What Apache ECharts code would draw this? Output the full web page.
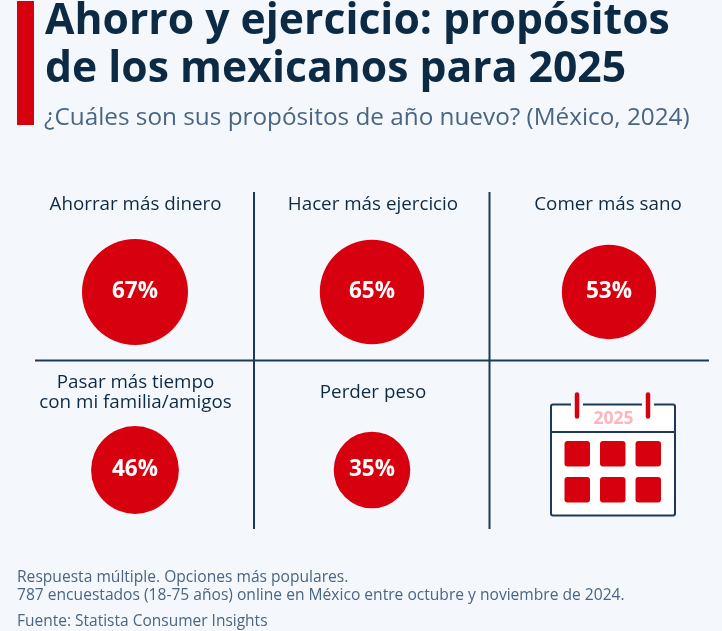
<!DOCTYPE html>
<html>
<head>
<meta charset="utf-8">
<script src="https://cdn.jsdelivr.net/npm/echarts@6/dist/echarts.min.js"></script>
<style>html,body{margin:0;padding:0;background:#f4f8fc}#c{width:722px;height:631px}</style>
</head>
<body>
<div id="c"></div>
<script>
const categories = ['Ahorrar más dinero','Hacer más ejercicio','Comer más sano','Pasar más tiempo\ncon mi familia/amigos','Perder peso'];
const values = [67,65,53,46,35];
const titleLines = ['Ahorro y ejercicio: propósitos','de los mexicanos para 2025'];
const subtitle = '¿Cuáles son sus propósitos de año nuevo? (México, 2024)';
const notes = ['Respuesta múltiple. Opciones más populares.','787 encuestados (18-75 años) online en México entre octubre y noviembre de 2024.'];
const source = 'Fuente: Statista Consumer Insights';
const calendarYear = '2025';

const FONT = '"Open Sans", sans-serif';
const RED = '#d7000f', NAVY = '#1c3a57', DARK = '#0d2a45', SLATE = '#4a6582';
const COLS = 3;

function txt(x, y, text, size, color, extra) {
  return { type:'text', x, y, silent:true, style:Object.assign({ text, fontFamily:FONT, fontSize:size, fill:color, verticalAlign:'middle' }, extra||{}) };
}
function line(x1,y1,x2,y2,color,w,cap){
  return { type:'line', silent:true, shape:{x1,y1,x2,y2}, style:{stroke:color,lineWidth:w,lineCap:cap||'butt'} };
}
function rect(x,y,width,height,r,style){
  return { type:'rect', silent:true, shape:{x,y,width,height,r}, style };
}

const graphics = [
  rect(17,1,17,124,0,{fill:RED}),
  txt(45,21.5,titleLines[0],42.7,DARK,{fontWeight:700}),
  txt(45,70,titleLines[1],42.7,DARK,{fontWeight:700}),
  txt(44,118,subtitle,24.3,SLATE),
  line(254,192,254,529,NAVY,2),
  line(489.5,192,489.5,529,NAVY,2),
  line(35,360.5,709,360.5,NAVY,2),
  txt(17,578,notes[0],15.6,SLATE),
  txt(17,596,notes[1],15.6,SLATE),
  txt(17,621.5,source,15.5,SLATE)
];

// cell captions, generated from the categories
const capX = [135.5,373,608];
categories.forEach((c,i)=>{
  const col = i % COLS, row = Math.floor(i/COLS);
  graphics.push({ type:'text', silent:true, x:capX[col], y: row===0 ? 205 : 392.5,
    style:{ text:c, fontFamily:FONT, fontSize:18.8, fill:DARK, align:'center', verticalAlign:'middle', lineHeight:20 } });
});

// calendar icon
graphics.push(rect(551,404.5,124,111,2,{fill:'#ffffff',stroke:NAVY,lineWidth:2}));
graphics.push(line(551,432,675,432,NAVY,2));
[577,648].forEach(x=>{
  graphics.push(line(x,402,x,406,'#f4f8fc',12));
  graphics.push(line(x,394.5,x,416.5,RED,4.5,'round'));
});
graphics.push({type:'text',silent:true,x:613.5,y:419,style:{text:calendarYear,fontFamily:FONT,fontSize:17.5,fontWeight:700,fill:'#ffb3ba',align:'center',verticalAlign:'middle'}});
[441,477].forEach(y=>[564.5,600,635.5].forEach(x=>{
  graphics.push(rect(x,y,25.5,25.5,3,{fill:RED}));
}));

const chart = echarts.init(document.getElementById('c'),null,{renderer:'canvas'});
chart.setOption({
  backgroundColor:'#f4f8fc',
  animation:false,
  grid:{ left:135, top:292, width:474, height:178 },
  xAxis:{ type:'value', min:0, max:2, show:false },
  yAxis:{ type:'value', min:0, max:1, inverse:true, show:false },
  graphic:graphics,
  series:[{
    type:'scatter',
    silent:true,
    clip:false,
    data:values.map((v,i)=>[i%COLS, Math.floor(i/COLS), v]),
    symbol:'circle',
    symbolSize:d=>12.95*Math.sqrt(d[2]),
    itemStyle:{ color:RED, opacity:1 },
    label:{ show:true, position:'inside', formatter:p=>p.data[2]+'%', fontFamily:FONT, fontSize:22.5, fontWeight:700, color:'#ffffff' }
  }]
});
</script>
</body>
</html>
